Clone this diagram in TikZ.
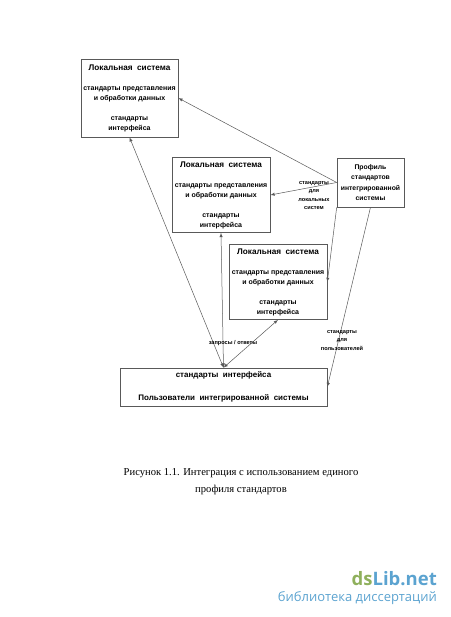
\documentclass[tikz,border=0pt]{standalone}
\usepackage{fontspec}
\setmainfont{Liberation Sans}
\newfontfamily\capfont{Liberation Serif}
\newfontfamily\markfont{Open Sans}
\definecolor{markgreen}{HTML}{8FB05C}
\definecolor{markblue}{HTML}{5BA3D0}
\tikzset{
    sysbox/.style={draw=black!65, line width=0.6pt, rectangle, inner sep=0pt, minimum width=97pt, minimum height=75pt, align=center, font=\fontsize{7}{10}\selectfont\bfseries},
    smalllabel/.style={align=center, inner sep=0pt, font=\fontsize{5.6}{8.5}\selectfont\bfseries},
    captiontext/.style={inner sep=0pt, font=\capfont\fontsize{10.6}{12}\selectfont},
    link/.style={draw=black!65, line width=0.5pt}
}
\begin{document}
\begin{tikzpicture}[x=1pt, y=-1pt, >=latex]
    \useasboundingbox (0,0) rectangle (450,617);

    \node[sysbox, minimum height=78pt] (system1) at (129.5,98) {{\fontsize{8.2}{10}\selectfont Локальная\ \ система}\\[10pt]стандарты представления\\и обработки данных\\[10pt]стандарты\\интерфейса};
    \node[sysbox, minimum width=98pt] (system2) at (221,195) {{\fontsize{8.2}{10}\selectfont Локальная\ \ система}\\[10pt]стандарты представления\\и обработки данных\\[10pt]стандарты\\интерфейса};
    \node[sysbox, minimum width=98pt] (system3) at (278,282) {{\fontsize{8.2}{10}\selectfont Локальная\ \ система}\\[10pt]стандарты представления\\и обработки данных\\[10pt]стандарты\\интерфейса};
    \node[sysbox, minimum width=67pt, minimum height=49pt, font=\fontsize{6.8}{10.3}\selectfont\bfseries] (profile) at (370.5,182.5) {Профиль\\стандартов\\интегрированной\\системы};
    \node[sysbox, minimum width=207pt, minimum height=38pt, font=\fontsize{8}{13}\selectfont\bfseries] (users) at (223.5,387) {стандарты\ \ интерфейса\\[10pt]Пользователи\ \ интегрированной\ \ системы};

    \draw[link, ->] (profile.west) -- (system1.east);
    \draw[link, ->] (profile.west) -- (system2.east);
    \draw[link, ->] (profile.south west) -- (system3.east);
    \draw[link, ->] (profile.south) -- (users.east);
    \draw[link, <->] (users.north) -- (system1.south);
    \draw[link, <->] (users.north) -- (system2.south);
    \draw[link, <->] (users.north) -- (system3.south);

    \node[smalllabel] (locallabel) at (314,195.5) {стандарты\\для\\локальных\\систем};
    \node[smalllabel] (userlabel) at (342,340.5) {стандарты\\для\\пользователей};
    \node[smalllabel] (requestlabel) at (233,343) {запросы / ответы};

    \node[captiontext] (caption1) at (241,473) {Рисунок 1.1. Интеграция с использованием единого};
    \node[captiontext] (caption2) at (241,490) {профиля стандартов};

    \node[font=\markfont\fontsize{18.5}{20}\selectfont\bfseries, inner sep=0pt, anchor=east] (marktitle) at (437,579) {\textcolor{markgreen}{ds}\textcolor{markblue}{Lib.net}};
    \node[font=\markfont\fontsize{13}{14}\selectfont, text=markblue, inner sep=0pt, anchor=east] (marktext) at (437,598) {библиотека диссертаций};
\end{tikzpicture}
\end{document}
